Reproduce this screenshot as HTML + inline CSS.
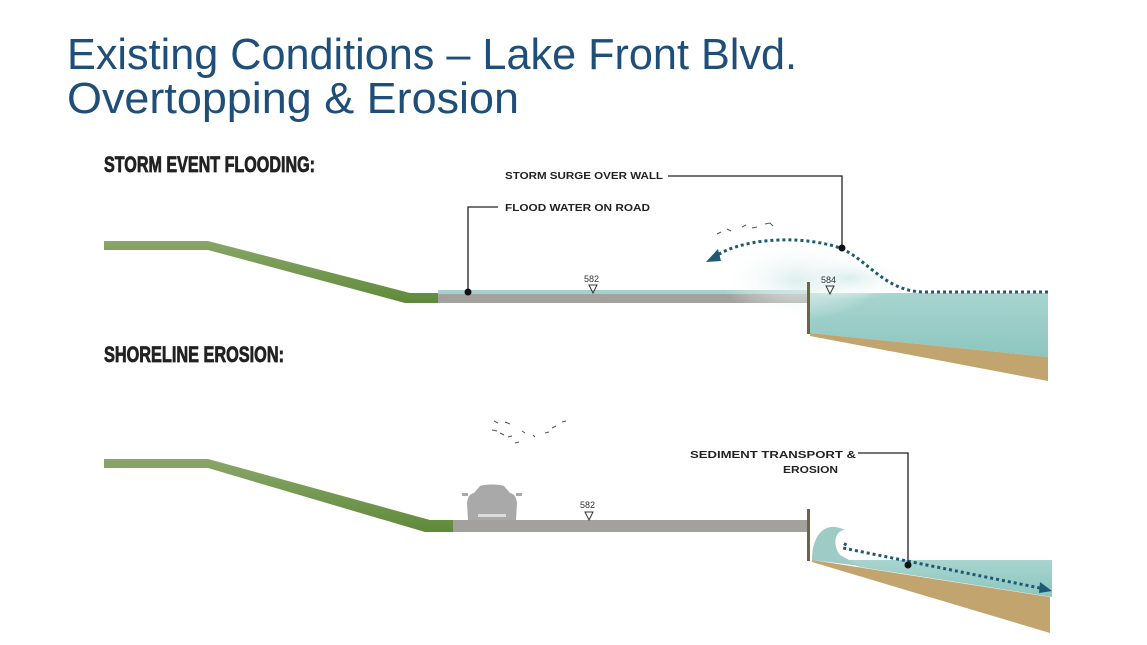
<!DOCTYPE html>
<html><head><meta charset="utf-8"><style>
html,body{margin:0;padding:0;background:#fff;}
svg{display:block;}
</style></head><body>
<svg width="1147" height="645" viewBox="0 0 1147 645" xmlns="http://www.w3.org/2000/svg">
<defs>
<linearGradient id="grass" x1="0" y1="0" x2="0" y2="1"><stop offset="0" stop-color="#8aa66a"/><stop offset="1" stop-color="#5f8a3a"/></linearGradient>
<linearGradient id="water" x1="0" y1="0" x2="0" y2="1"><stop offset="0" stop-color="#a8d4cf"/><stop offset="1" stop-color="#8cc6c0"/></linearGradient>
<radialGradient id="spray" cx="0.5" cy="0.5" r="0.5"><stop offset="0" stop-color="#d6ecea" stop-opacity="0.9"/><stop offset="1" stop-color="#ffffff" stop-opacity="0"/></radialGradient>
</defs>
<g font-family="'Liberation Sans',sans-serif" fill="#1f4e79" font-size="44">
<text x="67" y="69" textLength="730" lengthAdjust="spacingAndGlyphs">Existing Conditions – Lake Front Blvd.</text>
<text x="67" y="113" textLength="452" lengthAdjust="spacingAndGlyphs">Overtopping &amp; Erosion</text>
</g>
<g font-family="'Liberation Sans',sans-serif" font-weight="bold" fill="#222">
<text x="104" y="172" font-size="22" stroke="#222" stroke-width="0.8" textLength="211" lengthAdjust="spacingAndGlyphs">STORM EVENT FLOODING:</text>
<text x="104" y="362" font-size="22" stroke="#222" stroke-width="0.8" textLength="180" lengthAdjust="spacingAndGlyphs">SHORELINE EROSION:</text>
<text x="505" y="179" font-size="10" textLength="158" lengthAdjust="spacingAndGlyphs">STORM SURGE OVER WALL</text>
<text x="505" y="211" font-size="10" textLength="145" lengthAdjust="spacingAndGlyphs">FLOOD WATER ON ROAD</text>
<text x="690" y="458" font-size="10" textLength="166" lengthAdjust="spacingAndGlyphs">SEDIMENT TRANSPORT &amp;</text>
<text x="783" y="473" font-size="10" textLength="55" lengthAdjust="spacingAndGlyphs">EROSION</text>
</g>
<!-- TOP SECTION -->
<polygon points="104,241 208,241 410,293 438,293 438,303 405,303 208,250 104,250" fill="url(#grass)"/>
<rect x="438" y="290" width="370" height="4" fill="#a6d0cc"/>
<rect x="438" y="294" width="370" height="9" fill="#a3a19e"/>
<polygon points="810,293 1048,293 1048,357 810,333" fill="url(#water)"/>
<polygon points="810,333 1048,357 1048,381 810,336" fill="#c2a56e"/>
<ellipse cx="800" cy="280" rx="80" ry="40" fill="url(#spray)"/>
<ellipse cx="850" cy="278" rx="60" ry="22" fill="url(#spray)"/>
<rect x="807" y="282" width="3" height="52" fill="#6b6448"/>
<path d="M1048,292 L925,292 C880,292 865,252 830,245 C790,235 740,240 716,256" fill="none" stroke="#1e5a73" stroke-width="3" stroke-dasharray="3,3"/>
<polygon points="706,262 718,249 721,261" fill="#1e5a73"/>
<text x="584" y="282" font-family="'Liberation Sans',sans-serif" font-size="9" fill="#333">582</text>
<polygon points="589,285 597,285 593,293" fill="none" stroke="#333" stroke-width="1"/>
<text x="821" y="283" font-family="'Liberation Sans',sans-serif" font-size="9" fill="#333">584</text>
<polygon points="826,286 834,286 830,294" fill="none" stroke="#333" stroke-width="1"/>
<path d="M468,292 V207 H498" fill="none" stroke="#222" stroke-width="1.3"/>
<circle cx="468" cy="292" r="3.5" fill="#111"/>
<path d="M842,248 V176 H668" fill="none" stroke="#222" stroke-width="1.3"/>
<circle cx="842" cy="248" r="3.5" fill="#111"/>
<g stroke="#555" stroke-width="1" fill="none">
<path d="M717,234 l4,-2"/><path d="M727,229 l4,2"/><path d="M742,227 l4,-2"/><path d="M752,228 l5,-1"/><path d="M765,224 l5,-1 l3,3"/>
</g>
<!-- BOTTOM SECTION -->
<polygon points="104,459 208,459 430,520 453,520 453,532 425,532 208,468 104,468" fill="url(#grass)"/>
<rect x="453" y="520" width="355" height="12" fill="#a3a19e"/>
<path d="M468,520 L467,503 C468,496 470,494 474,493 L480,486 C485,484 499,484 504,486 L510,493 C514,494 516,496 517,503 L516,520 Z" fill="#a9a9a9"/>
<rect x="462" y="493" width="6" height="3" fill="#a9a9a9"/><rect x="516" y="493" width="6" height="3" fill="#a9a9a9"/>
<rect x="478" y="514" width="28" height="3" fill="#fff" opacity="0.6"/>
<text x="580" y="508" font-family="'Liberation Sans',sans-serif" font-size="9" fill="#333">582</text>
<polygon points="585,512 593,512 589,520" fill="none" stroke="#333" stroke-width="1"/>
<polygon points="812,560 1050,597 1050,633 812,562" fill="#c2a56e"/>
<polygon points="840,560 1052,560 1052,597 860,567" fill="url(#water)"/>
<path d="M812,560 C812,535 825,520 845,530 C835,530 832,545 840,555 L860,566 Z" fill="#9fcbc6"/>
<rect x="807" y="509" width="3" height="52" fill="#6b6448"/>
<path d="M846,543 L843,548 L1040,588" fill="none" stroke="#1e5a73" stroke-width="3" stroke-dasharray="3,3"/>
<polygon points="1040,582 1052,591 1039,593" fill="#1e5a73"/>
<path d="M908,565 V453 H858" fill="none" stroke="#222" stroke-width="1.3"/>
<circle cx="908" cy="565" r="3.5" fill="#111"/>
<g stroke="#555" stroke-width="1" fill="none">
<path d="M494,421 l4,2"/><path d="M505,422 l5,2"/><path d="M492,430 l5,1"/><path d="M500,433 l4,2"/><path d="M508,437 l4,-1"/><path d="M522,431 l3,2"/><path d="M515,443 l4,-1"/><path d="M533,435 l2,2"/><path d="M545,433 l4,-1"/><path d="M552,428 l4,-2"/><path d="M562,422 l4,-1"/>
</g>
</svg>
</body></html>
